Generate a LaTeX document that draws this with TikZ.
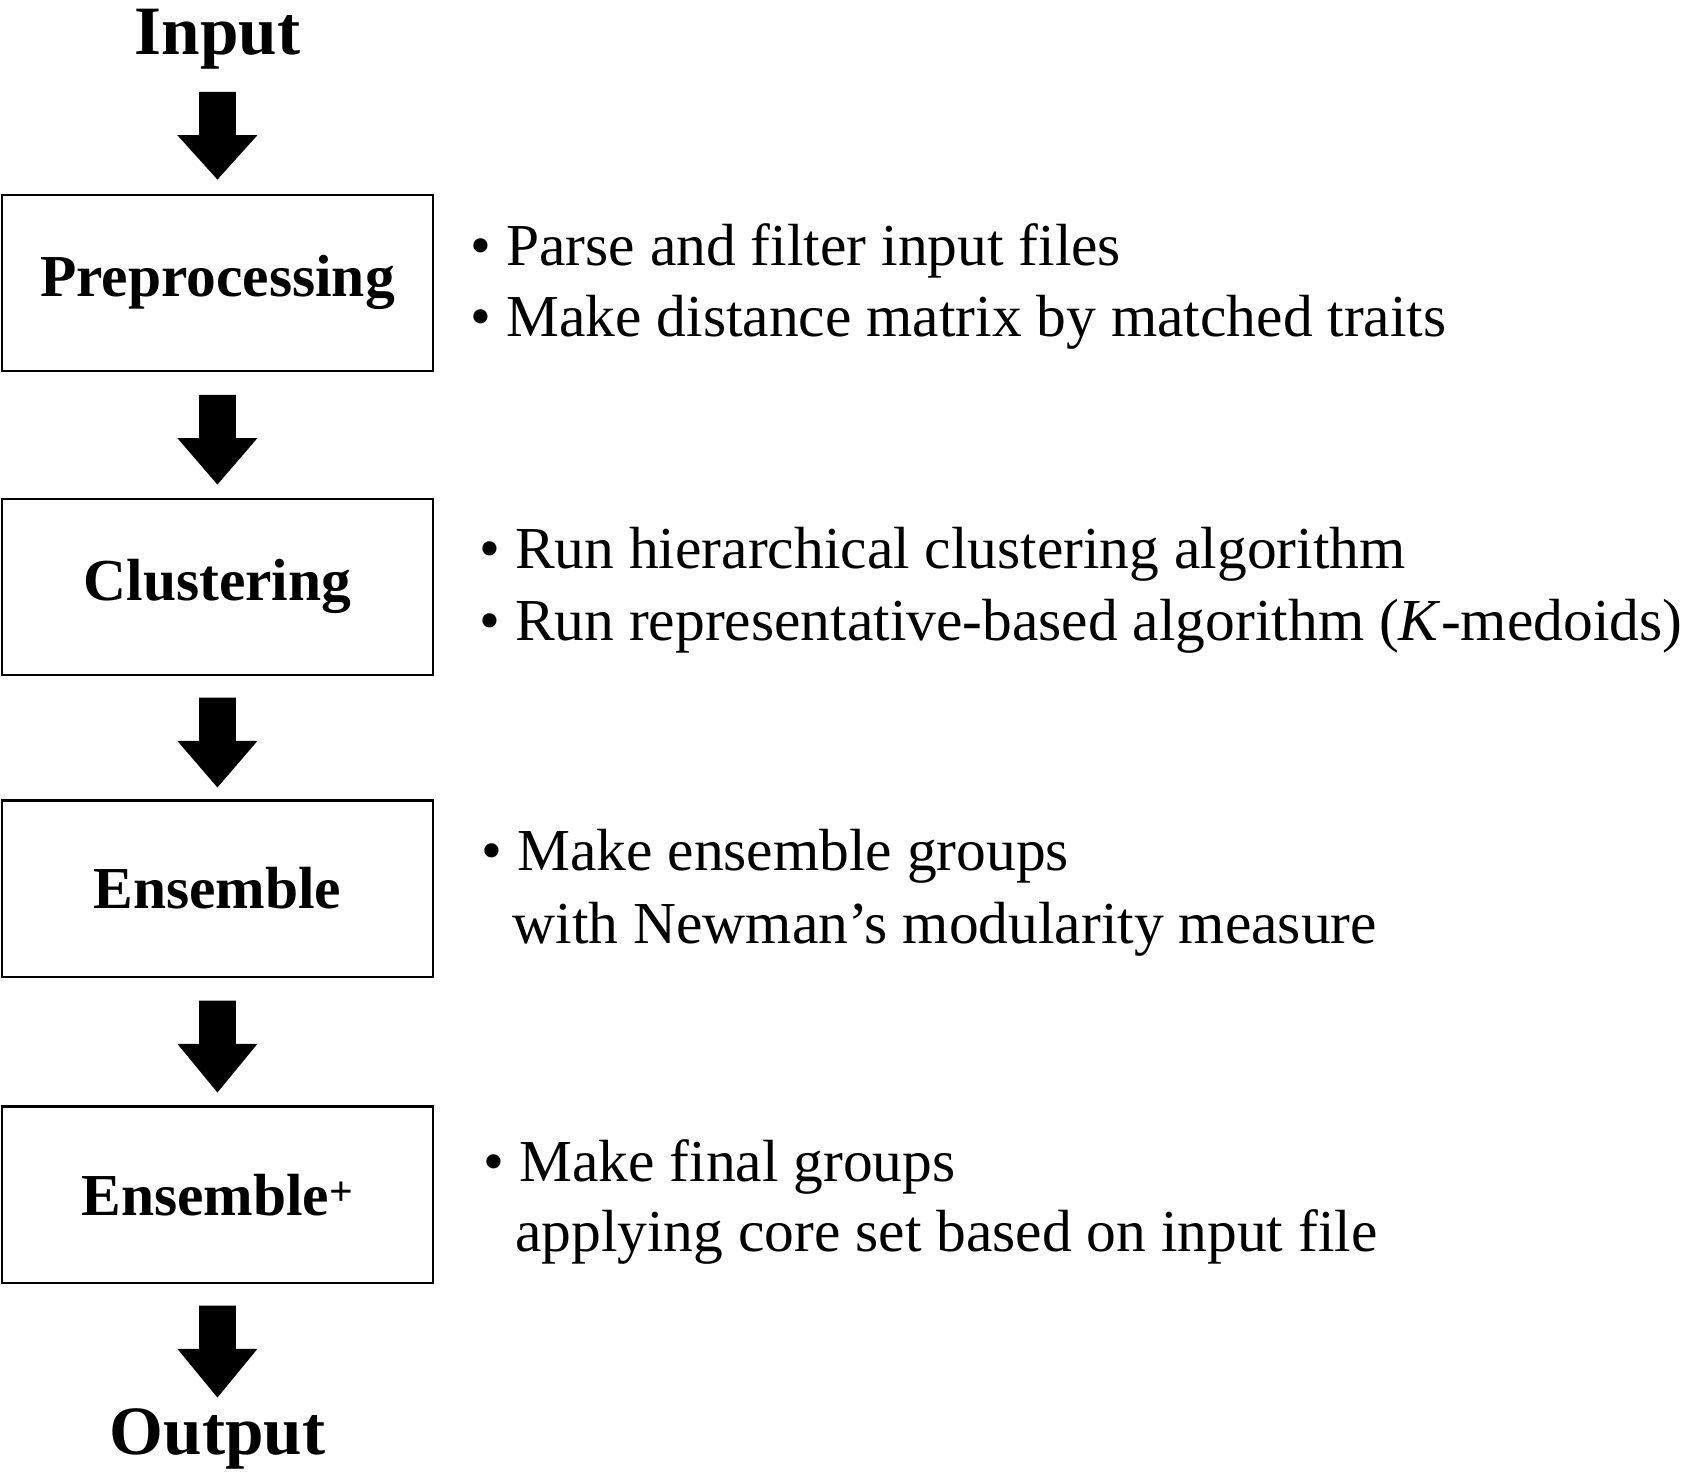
\documentclass[tikz,border=0pt]{standalone}
\usepackage{fontspec}
\setmainfont{Liberation Serif}
\begin{document}
\begin{tikzpicture}[x=1pt,y=-1pt,
  box/.style={draw,line width=2pt,minimum width=398pt,minimum height=163pt,inner sep=0pt,font=\fontsize{55}{66}\selectfont\bfseries},
  txt/.style={anchor=west,inner sep=0pt,font=\fontsize{55}{64}\selectfont},
  ttl/.style={inner sep=0pt,font=\fontsize{64}{76}\selectfont\bfseries}]
\useasboundingbox (0,0) rectangle (1567,1369);
\newcommand{\fatarrow}[2]{\fill (184,#1) -- (218,#1) -- (218,#1+40) -- (238,#1+40) -- (201,#2) -- (164,#1+40) -- (184,#1+40) -- cycle;}
\node[ttl] (in) at (201,36) {Input};
\node[ttl] (out) at (201,1330) {Output};
\node[box] (b1) at (201,261.5) {Preprocessing};
\node[box] (b2) at (201,542.5) {Clustering};
\node[box] (b3) at (201,821.5) {Ensemble};
\node[box] (b4) at (201,1104.5) {Ensemble\textsuperscript{+}};
\fatarrow{85}{166}
\fatarrow{365}{448}
\fatarrow{645}{728}
\fatarrow{925}{1010}
\fatarrow{1207}{1292}
\node[txt] (t1) at (435,232) {\textbullet\ Parse and filter input files};
\node[txt] (t2) at (435,298) {\textbullet\ Make distance matrix by matched traits};
\node[txt] (t3) at (443,512) {\textbullet\ Run hierarchical clustering algorithm};
\node[txt] (t4) at (443,579) {\textbullet\ Run representative-based algorithm (\textit{K}-medoids)};
\node[txt] (t5) at (445,792) {\textbullet\ Make ensemble groups};
\node[txt] (t6) at (474,859) {with Newman’s modularity measure};
\node[txt] (t7) at (447,1079) {\textbullet\ Make final groups};
\node[txt] (t8) at (476,1144) {applying core set based on input file};
\end{tikzpicture}
\end{document}
